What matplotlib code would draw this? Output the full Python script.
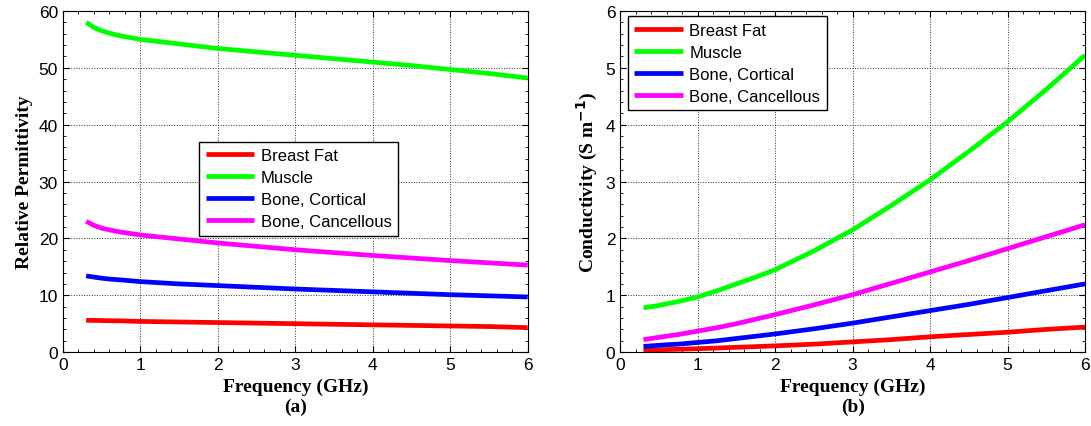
"""Dielectric properties of breast-model tissues, 0.3-6 GHz."""

import matplotlib

matplotlib.use("Agg")
import matplotlib.pyplot as plt
from matplotlib.ticker import AutoMinorLocator

TISSUES = ["Breast Fat", "Muscle", "Bone, Cortical", "Bone, Cancellous"]
COLORS = ["#ff0000", "#00ff00", "#0000ff", "#ff00ff"]

FREQ_GHZ = [0.3, 0.4, 0.5, 0.6, 0.75, 1.0, 1.25, 1.5, 1.75, 2.0, 2.5, 3.0, 3.5, 4.0, 4.5, 5.0, 5.5, 6.0]

# relative permittivity
EPS_FAT = [5.6, 5.58, 5.55, 5.52, 5.5, 5.4, 5.35, 5.3, 5.25, 5.2, 5.1, 5.0, 4.9, 4.8, 4.7, 4.6, 4.5, 4.3]
EPS_MUSCLE = [58.0, 57.1, 56.5, 56.1, 55.6, 55.0, 54.6, 54.2, 53.8, 53.4, 52.8, 52.2, 51.6, 51.0,
              50.4, 49.7, 49.0, 48.2]
EPS_CORTICAL = [13.4, 13.2, 13.0, 12.85, 12.7, 12.4, 12.2, 12.0, 11.85, 11.7, 11.4, 11.1, 10.85,
                10.6, 10.35, 10.1, 9.9, 9.7]
EPS_CANCELLOUS = [23.0, 22.3, 21.8, 21.5, 21.1, 20.6, 20.25, 19.9, 19.55, 19.2, 18.6, 18.0, 17.5,
                  17.0, 16.55, 16.1, 15.7, 15.3]

# conductivity, S/m
SIG_FAT = [0.03, 0.035, 0.04, 0.045, 0.05, 0.06, 0.072, 0.085, 0.097, 0.11, 0.14, 0.18, 0.22,
           0.27, 0.31, 0.35, 0.4, 0.44]
SIG_MUSCLE = [0.78, 0.8, 0.82, 0.85, 0.89, 0.97, 1.08, 1.2, 1.32, 1.45, 1.78, 2.15, 2.58, 3.03,
              3.53, 4.05, 4.62, 5.22]
SIG_CORTICAL = [0.1, 0.11, 0.12, 0.13, 0.14, 0.17, 0.2, 0.24, 0.28, 0.32, 0.41, 0.51, 0.62, 0.73,
                0.84, 0.96, 1.08, 1.2]
SIG_CANCELLOUS = [0.22, 0.24, 0.26, 0.28, 0.31, 0.37, 0.43, 0.5, 0.58, 0.66, 0.83, 1.01, 1.21,
                  1.41, 1.61, 1.82, 2.03, 2.24]

TICK_FONT = "Liberation Sans"
LABEL_FONT = "Liberation Serif"


def style_axis(axis, ylim, ylabel, panel):
    axis.set_xlim(0, 6)
    axis.set_ylim(*ylim)
    axis.xaxis.set_minor_locator(AutoMinorLocator(5))
    axis.yaxis.set_minor_locator(AutoMinorLocator(5))
    axis.tick_params(which="both", direction="in", top=True, right=True, labelsize=12.5)
    axis.tick_params(which="major", length=4, width=0.8)
    axis.tick_params(which="minor", length=2, width=0.6)
    for label in axis.get_xticklabels() + axis.get_yticklabels():
        label.set_fontfamily(TICK_FONT)
    axis.grid(which="major", color="#333333", linestyle=":", linewidth=0.7)
    axis.set_xlabel("Frequency (GHz)\n" + panel, fontfamily=LABEL_FONT, fontweight="bold",
                    fontsize=14, labelpad=4, linespacing=1.25)
    axis.set_ylabel(ylabel, fontfamily=LABEL_FONT, fontweight="bold", fontsize=14, labelpad=4)
    for spine in axis.spines.values():
        spine.set_linewidth(0.8)


def draw_panel(axis, series):
    for name, values, color in zip(TISSUES, series, COLORS):
        axis.plot(FREQ_GHZ, values, color=color, linewidth=3.4, label=name, solid_capstyle="butt")


figure = plt.figure(figsize=(10.91, 4.27), dpi=100)
left = figure.add_axes([0.0577, 0.173, 0.426, 0.799])
right = figure.add_axes([0.5685, 0.173, 0.426, 0.799])

draw_panel(left, [EPS_FAT, EPS_MUSCLE, EPS_CORTICAL, EPS_CANCELLOUS])
draw_panel(right, [SIG_FAT, SIG_MUSCLE, SIG_CORTICAL, SIG_CANCELLOUS])

style_axis(left, (0, 60), "Relative Permittivity", "(a)")
style_axis(right, (0, 6), r"Conductivity (S m$^{\mathbf{-1}}$)", "(b)")

legend_style = dict(prop={"family": TICK_FONT, "size": 12}, frameon=True, fancybox=False,
                    edgecolor="black", handlelength=2.9, handletextpad=0.4, labelspacing=0.42,
                    borderpad=0.4, borderaxespad=0.0)
leg_a = left.legend(loc="upper left", bbox_to_anchor=(0.293, 0.617), **legend_style)
leg_b = right.legend(loc="upper left", bbox_to_anchor=(0.016, 0.985), **legend_style)
for leg in (leg_a, leg_b):
    leg.get_frame().set_linewidth(1.0)
    leg.get_frame().set_alpha(1.0)

figure.savefig("out.png", dpi=100)
